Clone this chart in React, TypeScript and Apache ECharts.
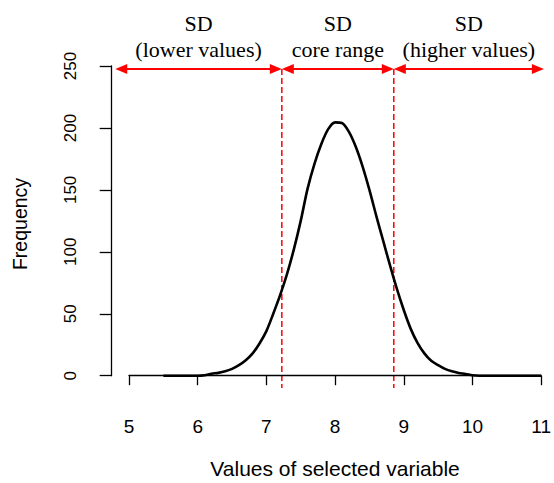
import React, { useEffect, useRef } from "react";
import * as echarts from "echarts";

// Values of selected variable (x) and frequency (y)
const xValues = [
  5.5, 5.6, 5.7, 5.8, 5.9, 6.0, 6.1, 6.2, 6.3, 6.4, 6.5, 6.6, 6.7, 6.8, 6.9,
  7.0, 7.1, 7.2, 7.3, 7.4, 7.5, 7.6, 7.7, 7.8, 7.9, 8.0, 8.1, 8.2, 8.3, 8.4,
  8.5, 8.6, 8.7, 8.8, 8.9, 9.0, 9.1, 9.2, 9.3, 9.4, 9.5, 9.6, 9.7, 9.8, 9.9,
  10.0, 10.1, 10.2, 10.3, 10.4, 10.5, 10.6, 10.7, 10.8, 10.9, 11.0,
];
const frequency = [
  0, 0, 0, 0, 0, 0, 0.4, 1.6, 2.3, 3.5, 5.5, 8.5, 12.5, 18, 26,
  36, 50, 65, 82, 102, 125, 151, 171, 187, 199, 204.5, 204, 197, 185, 169,
  150, 129, 109, 89, 70, 53, 38, 26.5, 18, 12, 8.5, 5.5, 3.5, 2.2, 1.4,
  0.3, 0, 0, 0, 0, 0, 0, 0, 0, 0, 0,
];

// Axis settings
const xMin = 5;
const xMax = 11;
const xStep = 1;
const yMin = 0;
const yMax = 250;
const yStep = 50;

// SD boundaries (dashed lines) and arrow annotation (data units)
const sdBounds = [7.225, 8.855];
const arrowSpan = [4.8, 11.04];
const arrowLevel = 247.5;
const dashBottom = -10;

// Header texts over the three segments
const headerTop = ["SD", "SD", "SD"];
const headerBottom = ["(lower values)", "core range", "(higher values)"];

const xTitle = "Values of selected variable";
const yTitle = "Frequency";

export default function App() {
  const ref = useRef<HTMLDivElement>(null);

  useEffect(() => {
    if (!ref.current) return;
    const chart = echarts.init(ref.current, null, { renderer: "svg" });
    const sans = "Liberation Sans, Arial, sans-serif";
    const serif = "Liberation Serif, Times New Roman, serif";

    chart.setOption({
      animation: false,
      backgroundColor: "#ffffff",
      grid: { left: 129, right: 10, top: 66, bottom: 107.3, containLabel: false },
      xAxis: {
        type: "value",
        min: xMin,
        max: xMax,
        interval: xStep,
        offset: 14.3,
        splitLine: { show: false },
        axisLine: { show: true, lineStyle: { color: "#000", width: 1.3 } },
        axisTick: { show: true, length: 9.5, lineStyle: { color: "#000", width: 1.3 } },
        axisLabel: { color: "#000", fontSize: 19, fontFamily: sans, margin: 27 },
      },
      yAxis: {
        type: "value",
        min: yMin,
        max: yMax,
        interval: yStep,
        offset: 17.3,
        splitLine: { show: false },
        axisLine: { show: true, lineStyle: { color: "#000", width: 1.3 } },
        axisTick: { show: true, length: 12, lineStyle: { color: "#000", width: 1.3 } },
        axisLabel: { color: "#000", fontSize: 17, fontFamily: sans, rotate: 90, margin: 33 },
      },
      series: [
        {
          type: "line",
          data: xValues.map((x, i) => [x, frequency[i]]),
          symbol: "none",
          smooth: 0.3,
          lineStyle: { color: "#000", width: 2.6 },
          clip: false,
        },
      ],
    });

    const px = (x: number, y: number) => chart.convertToPixel({ gridIndex: 0 }, [x, y]) as number[];

    const red = "#ff0000";
    const graphics: any[] = [];

    // Dashed SD boundary lines
    sdBounds.forEach((b) => {
      const p1 = px(b, arrowLevel);
      const p2 = px(b, dashBottom);
      graphics.push({
        type: "line",
        shape: { x1: p1[0], y1: p1[1], x2: p2[0], y2: p2[1] },
        style: { stroke: red, lineWidth: 1.5, lineDash: [6, 3] },
        silent: true,
      });
    });

    // Double-headed arrows
    const stops = [arrowSpan[0], sdBounds[0], sdBounds[1], arrowSpan[1]];
    const headLen = 12;
    const headHalf = 5;
    for (let i = 0; i < 3; i++) {
      const a = px(stops[i], arrowLevel);
      const b = px(stops[i + 1], arrowLevel);
      const y = a[1];
      graphics.push({
        type: "line",
        shape: { x1: a[0] + headLen - 2, y1: y, x2: b[0] - headLen + 2, y2: y },
        style: { stroke: red, lineWidth: 2 },
        silent: true,
      });
      graphics.push({
        type: "polygon",
        shape: { points: [[a[0], y], [a[0] + headLen, y - headHalf], [a[0] + headLen, y + headHalf]] },
        style: { fill: red },
        silent: true,
      });
      graphics.push({
        type: "polygon",
        shape: { points: [[b[0], y], [b[0] - headLen, y - headHalf], [b[0] - headLen, y + headHalf]] },
        style: { fill: red },
        silent: true,
      });
      const cx = (a[0] + b[0]) / 2;
      graphics.push({
        type: "text",
        x: cx,
        y: 23,
        style: { text: headerTop[i], fill: "#000", font: `22px ${serif}`, align: "center", verticalAlign: "middle" },
        silent: true,
      });
      graphics.push({
        type: "text",
        x: cx,
        y: 49,
        style: { text: headerBottom[i], fill: "#000", font: `22px ${serif}`, align: "center", verticalAlign: "middle" },
        silent: true,
      });
    }

    // Axis titles
    const mid = px((xMin + xMax) / 2, (yMin + yMax) / 2);
    graphics.push({
      type: "text",
      x: mid[0],
      y: 468,
      style: { text: xTitle, fill: "#000000", font: `21px ${sans}`, align: "center", verticalAlign: "middle" },
      silent: true,
    });
    graphics.push({
      type: "text",
      x: 20,
      y: 224,
      rotation: Math.PI / 2,
      style: { text: yTitle, fill: "#000000", font: `19.5px ${sans}`, align: "center", verticalAlign: "middle" },
      silent: true,
    });

    chart.setOption({ graphic: graphics });

    return () => chart.dispose();
  }, []);

  return <div ref={ref} style={{ width: 554, height: 483, position: "absolute", left: 0, top: 0 }} />;
}
